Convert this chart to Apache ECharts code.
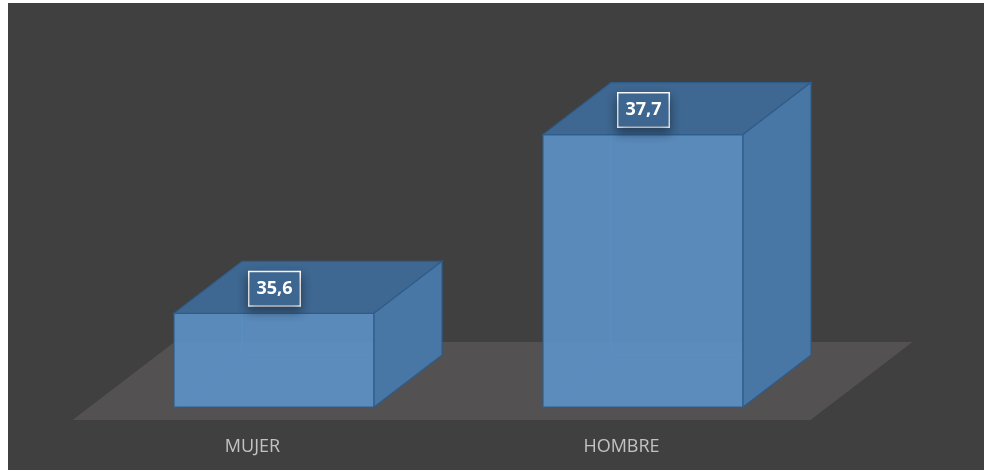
<!DOCTYPE html>
<html>
<head>
<meta charset="utf-8">
<script src="https://cdn.jsdelivr.net/npm/echarts@6/dist/echarts.min.js"></script>
<style>
html,body{margin:0;padding:0;background:#ffffff;width:984px;height:470px;overflow:hidden;}
#c{position:absolute;left:8px;top:3px;width:976px;height:467px;}
</style>
</head>
<body>
<div id="c"></div>
<script>
const categories = ['MUJER', 'HOMBRE'];
const values = [35.6, 37.7];
const valueLabels = ['35,6', '37,7'];
const yMin = 34.5;
const yMax = 38;

const DX = 68, DY = 52;          // 3D depth offset (px)
const BAR_RATIO = 0.542;
const FLOOR_PAD = 13;

const chart = echarts.init(document.getElementById('c'), null, {renderer: 'canvas'});

function poly(points, fill, stroke, opacity, z2) {
  return {
    type: 'polygon',
    shape: {points: points},
    style: {fill: fill, stroke: stroke, lineWidth: stroke ? 1.2 : 0, opacity: opacity == null ? 1 : opacity},
    z2: z2 || 0
  };
}

function renderFloor(params, api) {
  const band = api.size([1, 0])[0];
  const p0 = api.coord([0, yMin]);
  const p1 = api.coord([categories.length - 1, yMin]);
  const left = p0[0] - band / 2;
  const right = p1[0] + band / 2;
  const base = p0[1];
  const r = DX / DY;
  const yF = base + FLOOR_PAD, yBk = base - DY - FLOOR_PAD;
  const pts = [
    [left - FLOOR_PAD * r, yF],
    [right - FLOOR_PAD * r, yF],
    [right + (DY + FLOOR_PAD) * r, yBk],
    [left + (DY + FLOOR_PAD) * r, yBk]
  ];
  return poly(pts, '#535151', null, 1);
}

function renderBar(params, api) {
  const i = api.value(0), v = api.value(1);
  const top = api.coord([i, v]);
  const base = api.coord([i, yMin]);
  const band = api.size([1, 0])[0];
  const w = band * BAR_RATIO;
  const x0 = top[0] - w / 2, x1 = top[0] + w / 2;
  const yT = top[1], yB = base[1];
  const edge = '#2e5d8c';
  const children = [];
  // hidden edges (seen faintly through translucent front)
  children.push({type: 'line', shape: {x1: x0 + DX, y1: yT - DY, x2: x0 + DX, y2: yB - DY}, style: {stroke: '#3f74ad', lineWidth: 1.2}});
  children.push({type: 'line', shape: {x1: x0, y1: yB, x2: x0 + DX, y2: yB - DY}, style: {stroke: '#3f74ad', lineWidth: 1.2}});
  children.push({type: 'line', shape: {x1: x0 + DX, y1: yB - DY, x2: x1 + DX, y2: yB - DY}, style: {stroke: '#3f74ad', lineWidth: 1.2}});
  // front
  children.push(poly([[x0, yT], [x1, yT], [x1, yB], [x0, yB]], '#5c90c4', edge, 0.93));
  // top
  children.push(poly([[x0, yT], [x1, yT], [x1 + DX, yT - DY], [x0 + DX, yT - DY]], '#3e6791', edge, 1));
  // side
  children.push(poly([[x1, yT], [x1 + DX, yT - DY], [x1 + DX, yB - DY], [x1, yB]], '#4877a5', edge, 1));
  // value label
  children.push({
    type: 'text',
    x: top[0] + 0.5,
    y: yT - 24.5,
    style: {
      text: valueLabels[params.dataIndex],
      fill: '#ffffff',
      font: 'bold 18px "Open Sans", "Liberation Sans", sans-serif',
      lineHeight: 20,
      align: 'center',
      verticalAlign: 'middle',
      backgroundColor: '#3d6690',
      borderColor: '#ffffff',
      borderWidth: 1.5,
      padding: [7, 7, 6, 7],
      shadowColor: 'rgba(0,0,0,0.35)',
      shadowBlur: 10,
      shadowOffsetY: 5
    },
    z2: 10
  });
  return {type: 'group', children: children};
}

chart.setOption({
  backgroundColor: '#404040',
  animation: false,
  grid: {left: 81.5, right: 156.5, top: 106, bottom: 63},
  xAxis: {
    type: 'category',
    data: categories,
    axisLine: {show: false},
    axisTick: {show: false},
    splitLine: {show: false},
    axisLabel: {
      color: '#c2c2c2',
      fontSize: 18,
      fontFamily: '"Open Sans", "Liberation Sans", sans-serif',
      margin: 31,
      padding: [0, 43, 0, 0]
    }
  },
  yAxis: {
    type: 'value',
    min: yMin,
    max: yMax,
    show: false,
    splitLine: {show: false}
  },
  series: [
    {
      type: 'custom',
      renderItem: renderFloor,
      data: [[0, yMin]],
      encode: {x: 0, y: 1},
      z: 1,
      silent: true
    },
    {
      type: 'custom',
      renderItem: renderBar,
      data: values.map((v, i) => [i, v]),
      encode: {x: 0, y: 1},
      z: 2
    }
  ]
});
</script>
</body>
</html>
